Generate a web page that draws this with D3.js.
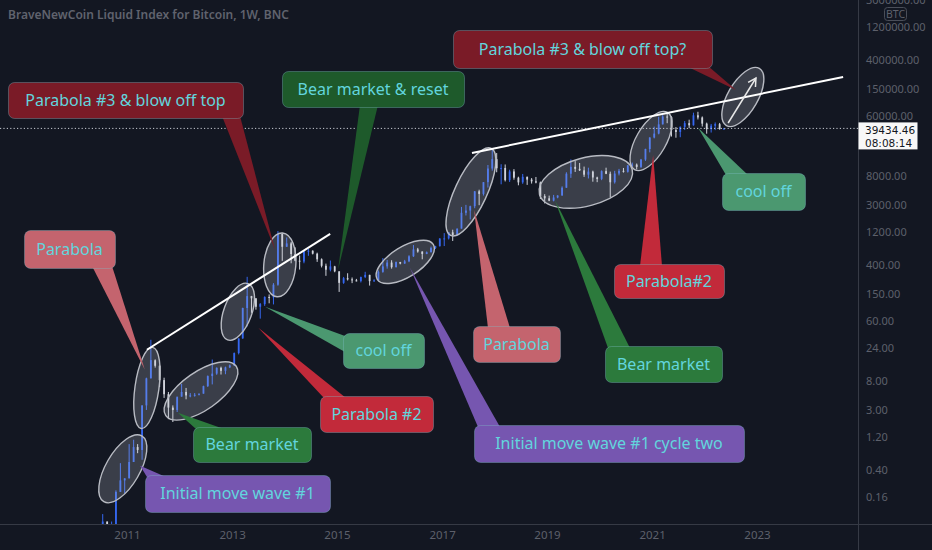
<!DOCTYPE html>
<html><head><meta charset="utf-8">
<script src="https://cdn.jsdelivr.net/npm/d3@7/dist/d3.min.js"></script>
<style>html,body{margin:0;padding:0;background:#131722;overflow:hidden}</style>
</head><body><svg id="c" width="932" height="550"></svg>
<script>
// ---------- DATA ----------
const title = "BraveNewCoin Liquid Index for Bitcoin, 1W, BNC";
const firstMonth = "2010-07";
const opens = [
 0.05,0.07,0.06,0.06,0.19,0.28,
 0.30,0.52,0.86,0.78,3.5,8.7,16,13.3,8.2,5.1,3.25,3.0,
 4.7,5.5,4.9,4.9,5.0,5.2,6.7,9.4,10.2,12.4,11.2,12.6,
 13.5,20.4,33.4,93,139,129,97,106,135,133,204,1130,
 732,820,573,458,445,628,640,580,480,386,338,378,
 320,217,254,244,236,230,264,284,230,236,314,378,
 430,368,437,416,448,531,670,624,575,609,700,745,
 965,970,1190,1080,1350,2300,2480,2870,4740,4340,6450,10200,
 14000,10300,10400,6900,9250,7500,6400,7730,7030,6630,6370,4040,
 3740,3460,3850,4110,5350,8570,10800,10100,9600,8300,9200,7550,
 7200,9350,8550,6430,8630,9450,9140,11350,11650,10780,13800,19700,
 29000,33100,45200,58800,57700,37300,35000,41500,47100,43800,61300,57000,
 46300,38500,43200,45500,38600];
const highs = [
 0.09,0.07,0.07,0.20,0.50,0.30,
 0.95,1.10,0.95,3.5,8.9,31.9,16.5,13.5,8.9,5.5,3.5,4.5,
 7.2,6.3,5.3,5.3,5.2,6.8,9.6,16.4,12.6,12.9,12.9,13.9,
 20.8,33.4,94,266,140,129,110,138,147,215,1240,1160,
 1000,860,718,545,650,680,650,600,495,415,460,385,
 320,265,300,260,248,268,315,285,245,330,500,470,
 465,445,440,470,550,775,705,626,625,735,755,980,
 1160,1200,1300,1350,2800,3000,2920,4780,5000,6470,11500,19700,
 17200,11800,11700,9800,10000,7750,8500,7770,7400,7680,6580,4300,
 4100,4200,4150,5600,9000,13900,13100,12300,10900,10500,9500,7750,
 9600,10500,9200,9450,10070,10400,11450,12470,12080,14100,19900,29300,
 41900,58300,61700,64800,59500,41300,42300,50500,52900,67000,69000,59000,
 47900,45800,48200,47400,40000];
const lows = [
 0.05,0.06,0.06,0.06,0.19,0.18,
 0.30,0.52,0.70,0.56,3.0,8.7,12.5,6.5,4.5,2.2,2.0,2.8,
 4.7,4.3,4.6,4.7,4.9,5.2,6.5,7.1,9.8,9.9,10.0,12.3,
 13.2,19.5,33,50,79,88,65,100,109,105,197,455,
 730,420,450,340,420,540,565,440,365,275,320,310,
 160,210,235,215,228,220,255,198,225,235,305,350,
 350,365,405,412,436,520,600,480,570,605,680,740,
 750,935,890,1060,1350,2100,1840,2680,2970,4110,5380,9500,
 9000,6000,6600,6500,7000,5800,6100,5880,6150,6200,3650,3150,
 3400,3380,3750,4100,5330,7450,9100,9400,7700,7300,6550,6450,
 6900,8450,3850,6150,8100,8900,8900,10550,9900,10400,13200,17600,
 28200,32300,45000,47000,30000,28800,29300,37300,39600,43300,53300,42000,
 33000,34300,37200,37700,37500];
const closes = [
 0.07,0.06,0.06,0.19,0.28,0.30,
 0.52,0.86,0.78,3.5,8.7,16.1,13.3,8.2,5.1,3.25,3.0,4.7,
 5.5,4.9,4.9,5.0,5.2,6.7,9.4,10.2,12.4,11.2,12.6,13.5,
 20.4,33.4,93,139,129,97,106,135,133,204,1130,732,
 820,573,458,445,628,640,580,480,386,338,378,320,
 217,254,244,236,230,264,284,230,236,314,378,430,
 368,437,416,448,531,670,624,575,609,700,745,965,
 970,1190,1080,1350,2300,2480,2870,4740,4340,6450,10200,14000,
 10300,10400,6900,9250,7500,6400,7730,7030,6630,6370,4040,3740,
 3460,3850,4110,5350,8570,10800,10100,9600,8300,9200,7550,7200,
 9350,8550,6430,8630,9450,9140,11350,11650,10780,13800,19700,29000,
 33100,45200,58800,57700,37300,35000,41500,47100,43800,61300,57000,46300,
 38500,43200,45500,38600,39434.46];
const lastPrice = 39434.46;
const countdown = "08:08:14";
const currency = "BTC";
const xTickYears = [2011,2013,2015,2017,2019,2021,2023];
const yTickValues = [3000000,1200000,400000,150000,60000,8000,3000,1200,400,150,60,24,8,3,1.2,0.4,0.16];

// annotation anchors in data space: [decimal year, price]
const ellipseCenters = [[2010.92,0.414],[2011.38,6.3],[2012.41,5.7],[2013.11,82],[2013.91,398],
  [2016.30,440],[2017.55,4650],[2019.74,6500],[2020.98,25800],[2022.73,113700]];
const trendLines = [[[2011.38,22.8],[2014.87,1130]], [[2017.57,17260],[2024.64,222800]]];
const arrowLine = [[2022.45,47300],[2022.98,215400]];
const calloutTexts = ["Parabola #3 & blow off top?","Parabola #3 & blow off top","Bear market & reset",
  "Parabola","Bear market","Initial move wave #1","cool off","Parabola #2","Parabola","Bear market",
  "Initial move wave #1 cycle two","Parabola#2","cool off"];
const calloutTips = [[2022.60,143900],[2013.82,659],[2015.02,336],[2011.34,11.6],[2011.97,2.73],
  [2011.25,0.458],[2013.63,96.7],[2013.50,47.7],[2017.61,2535],[2019.15,3550],[2016.39,360],
  [2021.02,16140],[2021.88,40000]];

// ---------- LAYOUT / STYLE ----------
const W=932, H=550, axisX=858, axisY=524;
const ellipseShapes = [[17,38,30],[12,41,8],[19,43,55],[14,30,20],[16,32,5],[15,33,58],[16,48,25],[48,24,-15],[15,33,30],[15,33,30]];
const palette = {darkred:"#7a1b27",darkgreen:"#1e5a2b",salmon:"#c4646e",green:"#2c7a3c",purple:"#7656b0",lightgreen:"#4b9870",red:"#c22a3a"};
const calloutBoxes = [
 [453,30,259,38,'b',686,708,'darkred'],
 [8,82,235,36,'b',222,240,'darkred'],
 [282,71,182,36,'b',360,378,'darkgreen'],
 [24,230,91,38,'b',92,112,'salmon'],
 [193,427,118,35,'t',196,224,'green'],
 [145,475,185,37,'t',147,166,'purple'],
 [343,333,81,35,'l',336,352,'lightgreen'],
 [320,396,113,36,'t',324,346,'red'],
 [473,326,87,36,'t',488,510,'salmon'],
 [605,346,117,36,'t',608,630,'green'],
 [474,425,270,37,'t',478,500,'purple'],
 [614,264,110,34,'t',640,662,'red'],
 [722,173,83,37,'t',726,748,'lightgreen']];

const dy = t => { const y=Math.floor(t); const s=new Date(y,0,1), e=new Date(y+1,0,1); return new Date(+s + (t-y)*(e-s)); };

const svg = d3.select("#c");
svg.append("rect").attr("width",W).attr("height",H).attr("fill","#131722");

const x = d3.scaleTime().domain([new Date(2011,0,1), new Date(2023,0,1)]).range([127,757]);
const y = d3.scaleLog().domain([0.16,1200000]).range([497,27]);

svg.append("clipPath").attr("id","plot").append("rect").attr("x",0).attr("y",0).attr("width",axisX).attr("height",axisY);
const plot = svg.append("g").attr("clip-path","url(#plot)");

// candles
const start = d3.timeParse("%Y-%m")(firstMonth);
const bars = closes.map((c,i)=>({d:d3.timeDay.offset(d3.timeMonth.offset(start,i),15),o:opens[i],h:highs[i],l:lows[i],c}));
const upC="#3567f0", dnC="#d1d4dc";
const cg = plot.append("g");
cg.selectAll("line.w").data(bars).join("line")
  .attr("x1",d=>x(d.d)).attr("x2",d=>x(d.d)).attr("y1",d=>y(d.h)).attr("y2",d=>y(d.l))
  .attr("stroke",d=>d.c>=d.o?upC:dnC).attr("stroke-width",1);
cg.selectAll("rect.b").data(bars).join("rect")
  .attr("x",d=>x(d.d)-0.9).attr("width",1.8)
  .attr("y",d=>y(Math.max(d.o,d.c))).attr("height",d=>Math.max(1,Math.abs(y(d.o)-y(d.c))))
  .attr("fill",d=>d.c>=d.o?upC:dnC);

// last price dotted line
plot.append("line").attr("x1",0).attr("x2",axisX).attr("y1",y(lastPrice)).attr("y2",y(lastPrice))
  .attr("stroke","#c8cbd3").attr("stroke-dasharray","1.2,2.2").attr("stroke-width",1);

// ellipses
const eg = plot.append("g");
ellipseCenters.forEach((c,i)=>{
  const [rx,ry,rot]=ellipseShapes[i];
  const cx=x(dy(c[0])), cy=y(c[1]);
  eg.append("ellipse").attr("cx",cx).attr("cy",cy).attr("rx",rx).attr("ry",ry)
    .attr("transform",`rotate(${rot},${cx},${cy})`)
    .attr("fill","rgba(200,203,212,0.22)").attr("stroke","#b8bbc3").attr("stroke-width",1.4);
});
// trend lines
trendLines.forEach(l=>{
  plot.append("line").attr("x1",x(dy(l[0][0]))).attr("y1",y(l[0][1])).attr("x2",x(dy(l[1][0]))).attr("y2",y(l[1][1]))
    .attr("stroke","#ffffff").attr("stroke-width",2);
});
// arrow
{
  const x1=x(dy(arrowLine[0][0])), y1=y(arrowLine[0][1]), x2=x(dy(arrowLine[1][0])), y2=y(arrowLine[1][1]);
  plot.append("line").attr("x1",x1).attr("y1",y1).attr("x2",x2).attr("y2",y2).attr("stroke","#e8e8e8").attr("stroke-width",1.5);
  const a=Math.atan2(y2-y1,x2-x1), L=9;
  const p=[[x2-L*Math.cos(a-0.5),y2-L*Math.sin(a-0.5)],[x2,y2],[x2-L*Math.cos(a+0.5),y2-L*Math.sin(a+0.5)]];
  plot.append("polyline").attr("points",p.map(q=>q.join(",")).join(" ")).attr("fill","none").attr("stroke","#e8e8e8").attr("stroke-width",1.5);
}

// callouts
const ag = svg.append("g");
const textColor="#62d5dd";
calloutTexts.forEach((t,i)=>{
  const [bx,by,bw,bh,side,a,b,col]=calloutBoxes[i];
  const tip=[x(dy(calloutTips[i][0])), y(calloutTips[i][1])];
  let p1,p2;
  if(side==='b'){p1=[a,by+bh-2];p2=[b,by+bh-2];}
  else if(side==='t'){p1=[a,by+2];p2=[b,by+2];}
  else {p1=[bx+2,a];p2=[bx+2,b];}
  ag.append("polygon").attr("points",[p1,p2,tip].map(q=>q.join(",")).join(" ")).attr("fill",palette[col]);
  ag.append("rect").attr("x",bx+0.5).attr("y",by+0.5).attr("width",bw).attr("height",bh).attr("rx",6)
    .attr("fill",palette[col]).attr("stroke","rgba(130,190,200,0.35)").attr("stroke-width",1);
  ag.append("text").attr("x",bx+bw/2).attr("y",by+bh/2).attr("dy","0.36em").attr("text-anchor","middle")
    .attr("font-family","'Noto Sans', 'Open Sans', sans-serif").attr("font-size",16).attr("fill",textColor).text(t);
});

// axes frame
svg.append("line").attr("x1",0).attr("x2",W).attr("y1",axisY+0.5).attr("y2",axisY+0.5).attr("stroke","#363a45");
svg.append("line").attr("x1",axisX+0.5).attr("x2",axisX+0.5).attr("y1",0).attr("y2",H).attr("stroke","#363a45");

const axFont="'Noto Sans', 'DejaVu Sans', sans-serif";
const xa = svg.append("g").attr("transform",`translate(0,${axisY})`)
  .call(d3.axisBottom(x).tickValues(xTickYears.map(v=>new Date(v,0,1))).tickFormat(d3.timeFormat("%Y")).tickSize(0).tickPadding(7));
xa.select(".domain").remove();
xa.selectAll("text").attr("fill","#5d606b").attr("font-family",axFont).attr("font-size",11.5);

const ya = svg.append("g").attr("transform",`translate(${axisX},0)`)
  .call(d3.axisRight(y).tickValues(yTickValues).tickFormat(d3.format(".2f")).tickSize(0).tickPadding(8));
ya.select(".domain").remove();
ya.selectAll("text").attr("fill","#5d606b").attr("font-family",axFont).attr("font-size",11);

// currency badge
svg.append("rect").attr("x",884.5).attr("y",7.5).attr("width",22).attr("height",13).attr("rx",3)
  .attr("fill","none").attr("stroke","#4a4e59");
svg.append("text").attr("x",895.5).attr("y",14).attr("dy","0.35em").attr("text-anchor","middle")
  .attr("fill","#5d606b").attr("font-family",axFont).attr("font-size",10.5).text(currency);

// price label
const py=y(lastPrice);
const plFont="'DejaVu Sans', sans-serif";
svg.append("rect").attr("x",axisX+0.5).attr("y",py-6).attr("width",59).attr("height",27).attr("fill","#f8f8f8");
svg.append("text").attr("x",axisX+7).attr("y",py+1.5).attr("dy","0.35em").attr("fill","#131722").attr("font-family",plFont).attr("font-size",10.5).text(d3.format(".2f")(lastPrice));
svg.append("text").attr("x",axisX+7).attr("y",py+14.5).attr("dy","0.35em").attr("fill","#131722").attr("font-family",plFont).attr("font-size",10.5).text(countdown);

// title
svg.append("text").attr("x",8).attr("y",19).attr("fill","#60636e").attr("font-family",axFont).attr("font-size",12).attr("font-weight",600).text(title);
</script></body></html>
